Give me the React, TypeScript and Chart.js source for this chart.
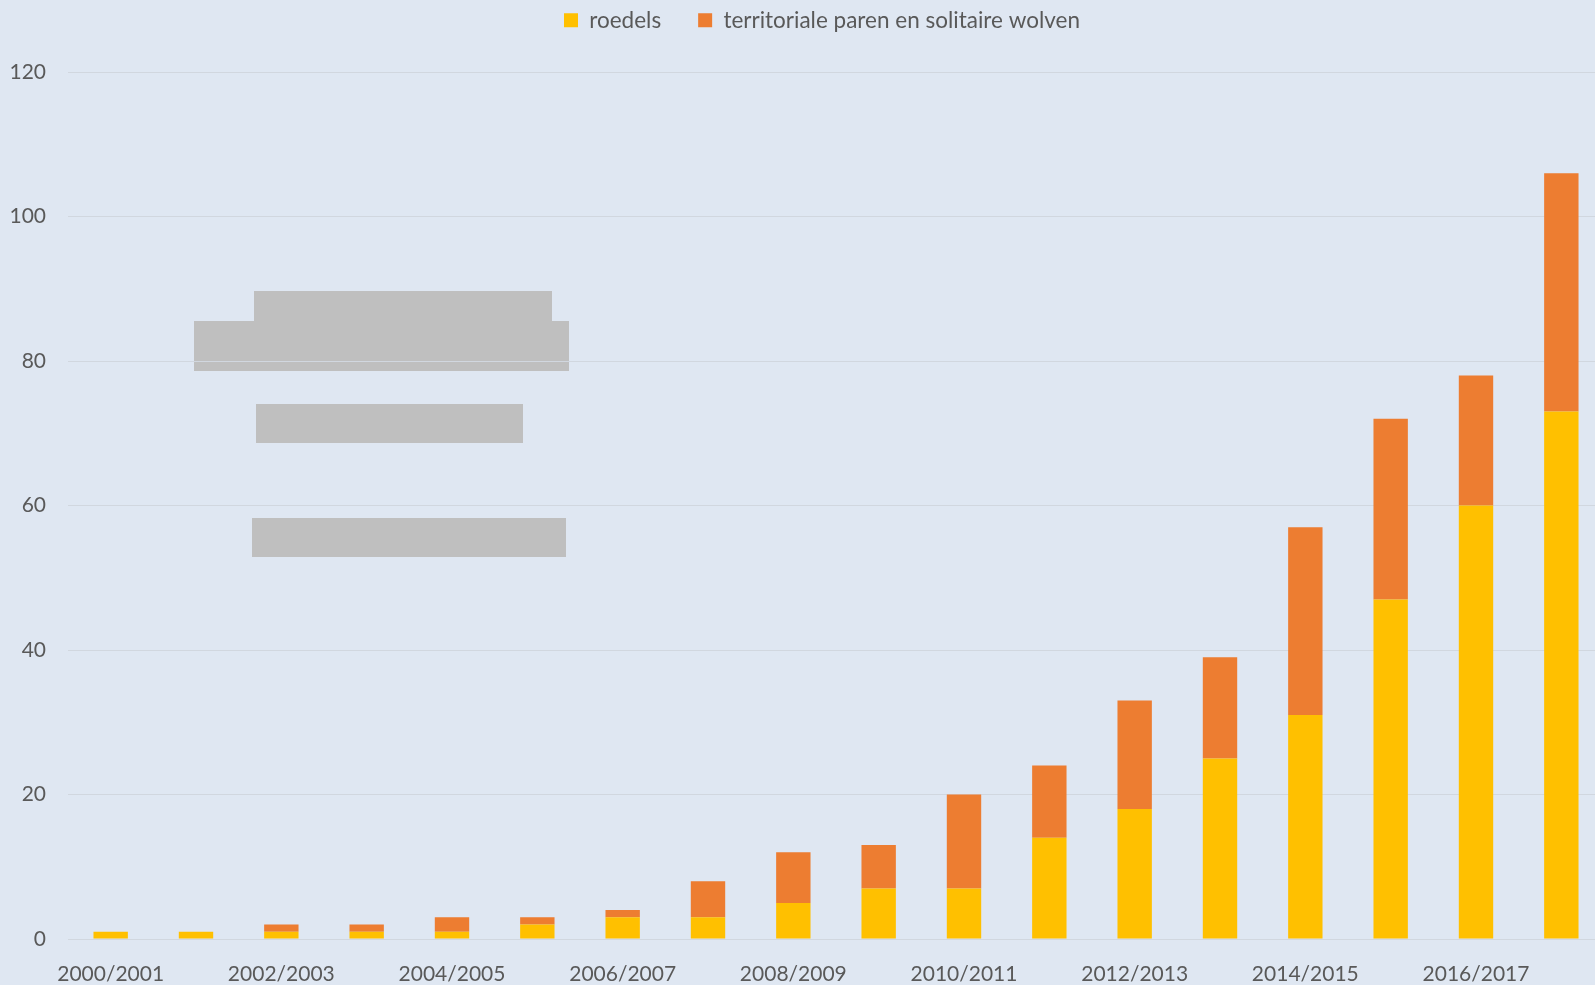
import { useEffect, useRef } from 'react';
import { Chart, registerables } from 'chart.js';

Chart.register(...registerables);

const seasons = [
  '2000/2001', '2001/2002', '2002/2003', '2003/2004', '2004/2005', '2005/2006',
  '2006/2007', '2007/2008', '2008/2009', '2009/2010', '2010/2011', '2011/2012',
  '2012/2013', '2013/2014', '2014/2015', '2015/2016', '2016/2017', '2017/2018',
];
const roedels = [1, 1, 1, 1, 1, 2, 3, 3, 5, 7, 7, 14, 18, 25, 31, 47, 60, 73];
const parenSolitair = [0, 0, 1, 1, 2, 1, 1, 5, 7, 6, 13, 10, 15, 14, 26, 25, 18, 33];
const seriesNames = ['roedels', 'territoriale paren en solitaire wolven'];
const seriesColors = ['#FFC000', '#ED7D31'];
const yMax = 120;
const yStep = 20;

const BG = '#dfe7f2';
const GRID = '#d1d7df';
const TEXT = '#595959';
const FONT = 'Lato, "Open Sans", sans-serif';

// extra space below the legend and a small horizontal nudge to match the original placement
const legendTweak = {
  id: 'legendTweak',
  afterInit(chart: any) {
    const legend = chart.legend;
    if (!legend) return;
    const fit = legend.fit;
    legend.fit = function () {
      fit.call(this);
      this.height += 30.5;
    };
  },
  afterLayout(chart: any) {
    const legend = chart.legend;
    if (!legend) return;
    legend.left += 20;
    legend.right += 20;
  },
};

export default function App() {
  const ref = useRef<HTMLCanvasElement | null>(null);

  useEffect(() => {
    if (!ref.current) return;
    const chart = new Chart(ref.current, {
      type: 'bar',
      data: {
        labels: seasons,
        datasets: [
          { label: seriesNames[0], data: roedels, backgroundColor: seriesColors[0], borderWidth: 0 },
          { label: seriesNames[1], data: parenSolitair, backgroundColor: seriesColors[1], borderWidth: 0 },
        ],
      },
      options: {
        responsive: false,
        animation: false,
        devicePixelRatio: 1,
        layout: { padding: { top: -28, right: 0, left: 0, bottom: 0 } },
        datasets: { bar: { categoryPercentage: 1, barPercentage: 0.403 } },
        plugins: {
          legend: {
            position: 'top',
            labels: {
              boxWidth: 14,
              boxHeight: 14,
              padding: 37,
              color: TEXT,
              font: { family: FONT, size: 22.5 },
            },
          },
          tooltip: { enabled: false },
        },
        scales: {
          x: {
            stacked: true,
            grid: { display: false, drawTicks: false },
            border: { display: false },
            ticks: {
              autoSkip: false,
              maxRotation: 0,
              minRotation: 0,
              padding: 23,
              color: TEXT,
              font: { family: FONT, size: 21 },
              callback: (_v: any, i: number) => (i % 2 === 0 ? seasons[i] : ''),
            },
            afterFit: (s: any) => {
              s.height = 46;
            },
          },
          y: {
            stacked: true,
            min: 0,
            max: yMax,
            grid: { color: GRID, lineWidth: 1, drawTicks: false },
            border: { display: false },
            ticks: {
              stepSize: yStep,
              padding: 22,
              color: TEXT,
              font: { family: FONT, size: 21 },
            },
            afterFit: (s: any) => {
              s.width = 68;
            },
          },
        },
      },
      plugins: [legendTweak],
    });
    return () => chart.destroy();
  }, []);

  const box = (l: number, t: number, r: number, b: number) => ({
    position: 'absolute' as const,
    left: l,
    top: t,
    width: r - l,
    height: b - t,
    background: '#bfbfbf',
  });

  return (
    <div
      style={{
        position: 'fixed',
        left: 0,
        top: 0,
        width: 1595,
        height: 985,
        overflow: 'hidden',
        background: BG,
      }}
    >
      <div style={box(254, 291, 552, 321)} />
      <div style={box(194, 321, 569, 371)} />
      <div style={box(256, 404, 523, 443)} />
      <div style={box(252, 518, 566, 557)} />
      <canvas
        ref={ref}
        width={1604}
        height={985}
        style={{ position: 'absolute', left: 0, top: 0, width: 1604, height: 985, display: 'block' }}
      />
    </div>
  );
}
